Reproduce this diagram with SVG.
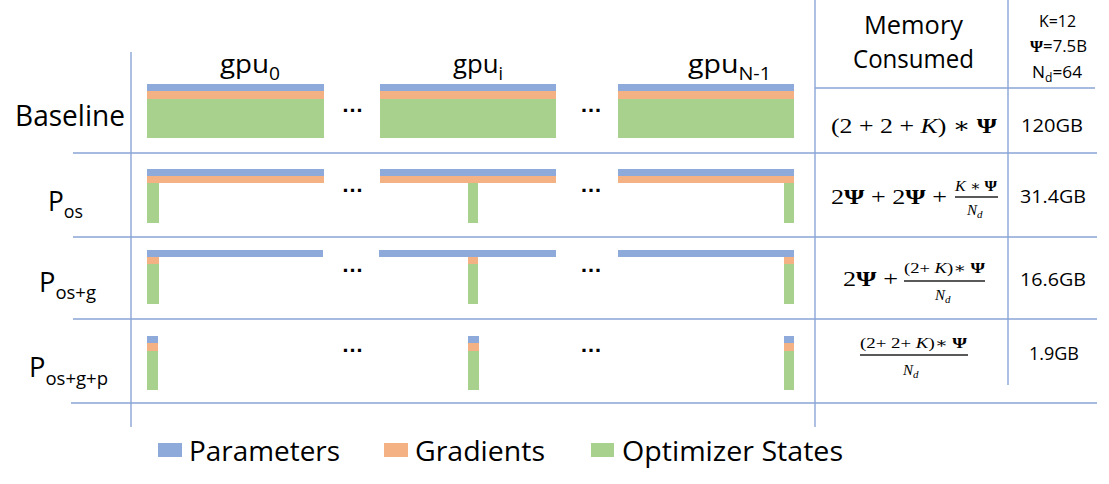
<svg xmlns="http://www.w3.org/2000/svg" width="1109" height="484" viewBox="0 0 1109 484">
<style>
.t{font-family:"Open Sans","Liberation Sans",sans-serif;fill:#000}
.m{font-family:"Liberation Serif","DejaVu Serif",serif;fill:#000}
.grid line{stroke:#8aa4d6;stroke-width:1.4}
.p{fill:#8eaadb}.g{fill:#f4b183}.o{fill:#a9d18e}
.dots{font-family:"Liberation Sans",sans-serif;font-size:22px;fill:#000;text-anchor:middle;font-weight:bold}
.fl{stroke:#222;stroke-width:1.3}
</style>
<rect width="1109" height="484" fill="#fff"/>
<g id="grid" class="grid">
<line x1="131" y1="52" x2="131" y2="427"/>
<line x1="815" y1="0" x2="815" y2="427"/>
<line x1="1008" y1="0" x2="1008" y2="385"/>
<line x1="815" y1="88" x2="1095" y2="88"/>
<line x1="73" y1="153" x2="1097" y2="153"/>
<line x1="73" y1="237" x2="1097" y2="237"/>
<line x1="73" y1="319" x2="1097" y2="319"/>
<line x1="71" y1="403" x2="1097" y2="403"/>
</g>
<g id="header">
<text class="t" x="220" y="73" font-size="26" textLength="60" lengthAdjust="spacingAndGlyphs">gpu<tspan font-size="18" dy="7">0</tspan></text>
<text class="t" x="453" y="73" font-size="26" textLength="50" lengthAdjust="spacingAndGlyphs">gpu<tspan font-size="18" dy="7">i</tspan></text>
<text class="t" x="688" y="73" font-size="26" textLength="83" lengthAdjust="spacingAndGlyphs">gpu<tspan font-size="18" dy="7">N-1</tspan></text>
<text class="t" x="864" y="34" font-size="26" textLength="99" lengthAdjust="spacingAndGlyphs">Memory</text>
<text class="t" x="853" y="68" font-size="26" textLength="121" lengthAdjust="spacingAndGlyphs">Consumed</text>
<text class="t" x="1039" y="27" font-size="17" textLength="37" lengthAdjust="spacingAndGlyphs">K=12</text>
<text x="1030" y="52" font-size="17" textLength="57" lengthAdjust="spacingAndGlyphs"><tspan class="m" font-weight="bold">Ψ</tspan><tspan class="t">=7.5B</tspan></text>
<text class="t" x="1032" y="78" font-size="17" textLength="50" lengthAdjust="spacingAndGlyphs">N<tspan font-size="12" dy="4">d</tspan><tspan dy="-4">=64</tspan></text>
</g>
<g id="row-baseline">
<text class="t" x="15" y="126" font-size="29" textLength="110" lengthAdjust="spacingAndGlyphs">Baseline</text>
<rect class="p" x="147" y="84" width="177" height="7"/><rect class="g" x="147" y="91" width="177" height="8"/><rect class="o" x="147" y="99" width="177" height="39"/>
<rect class="p" x="380" y="84" width="176" height="7"/><rect class="g" x="380" y="91" width="176" height="8"/><rect class="o" x="380" y="99" width="176" height="39"/>
<rect class="p" x="618" y="84" width="176" height="7"/><rect class="g" x="618" y="91" width="176" height="8"/><rect class="o" x="618" y="99" width="176" height="39"/>
<text class="dots" x="352.5" y="112">…</text><text class="dots" x="591" y="112">…</text>
<text class="m" x="831" y="133" font-size="22" textLength="166" lengthAdjust="spacingAndGlyphs">(2 + 2 + <tspan font-style="italic">K</tspan>) ∗ <tspan font-weight="bold">Ψ</tspan></text>
<text class="t" x="1021" y="132" font-size="19" textLength="62" lengthAdjust="spacingAndGlyphs">120GB</text>
</g>
<g id="row-pos">
<text class="t" x="48" y="211" font-size="28" textLength="35" lengthAdjust="spacingAndGlyphs">P<tspan font-size="19" dy="7">os</tspan></text>
<rect class="p" x="147" y="169" width="177" height="7"/><rect class="g" x="147" y="176" width="177" height="7"/><rect class="o" x="147" y="183" width="12" height="40"/>
<rect class="p" x="380" y="169" width="176" height="7"/><rect class="g" x="380" y="176" width="176" height="7"/><rect class="o" x="468" y="183" width="10" height="40"/>
<rect class="p" x="618" y="169" width="176" height="7"/><rect class="g" x="618" y="176" width="176" height="7"/><rect class="o" x="784" y="183" width="10" height="40"/>
<text class="dots" x="352.5" y="192">…</text><text class="dots" x="591" y="192">…</text>
<text class="m" x="831" y="204" font-size="22" textLength="116" lengthAdjust="spacingAndGlyphs">2<tspan font-weight="bold">Ψ</tspan> + 2<tspan font-weight="bold">Ψ</tspan> +</text>
<text class="m" x="955" y="191" font-size="15" textLength="42" lengthAdjust="spacingAndGlyphs"><tspan font-style="italic">K</tspan> ∗ <tspan font-weight="bold">Ψ</tspan></text>
<line class="fl" x1="955" y1="197" x2="998" y2="197"/>
<text class="m" x="967" y="215" font-size="15" font-style="italic">N<tspan font-size="11" dy="3">d</tspan></text>
<text class="t" x="1020" y="203" font-size="19" textLength="66" lengthAdjust="spacingAndGlyphs">31.4GB</text>
</g>
<g id="row-pos-g">
<text class="t" x="39" y="292" font-size="28" textLength="57" lengthAdjust="spacingAndGlyphs">P<tspan font-size="19" dy="7">os+g</tspan></text>
<rect class="p" x="147" y="250" width="176" height="7"/><rect class="g" x="147" y="257" width="12" height="7"/><rect class="o" x="147" y="264" width="12" height="40"/>
<rect class="p" x="379" y="250" width="177" height="7"/><rect class="g" x="468" y="257" width="10" height="7"/><rect class="o" x="468" y="264" width="10" height="40"/>
<rect class="p" x="618" y="250" width="176" height="7"/><rect class="g" x="784" y="257" width="10" height="7"/><rect class="o" x="784" y="264" width="10" height="40"/>
<text class="dots" x="352.5" y="272">…</text><text class="dots" x="591" y="272">…</text>
<text class="m" x="843" y="286" font-size="22" textLength="55" lengthAdjust="spacingAndGlyphs">2<tspan font-weight="bold">Ψ</tspan> +</text>
<text class="m" x="904" y="273" font-size="15" textLength="81" lengthAdjust="spacingAndGlyphs">(2+ <tspan font-style="italic">K</tspan>)∗ <tspan font-weight="bold">Ψ</tspan></text>
<line class="fl" x1="904" y1="281" x2="985" y2="281"/>
<text class="m" x="935" y="300" font-size="15" font-style="italic">N<tspan font-size="11" dy="3">d</tspan></text>
<text class="t" x="1020" y="286" font-size="19" textLength="66" lengthAdjust="spacingAndGlyphs">16.6GB</text>
</g>
<g id="row-pos-g-p">
<text class="t" x="29" y="377" font-size="28" textLength="79" lengthAdjust="spacingAndGlyphs">P<tspan font-size="19" dy="8">os+g+p</tspan></text>
<rect class="p" x="147" y="336" width="11" height="7"/><rect class="g" x="147" y="343" width="11" height="8"/><rect class="o" x="147" y="351" width="11" height="39"/>
<rect class="p" x="468" y="336" width="11" height="7"/><rect class="g" x="468" y="343" width="11" height="8"/><rect class="o" x="468" y="351" width="11" height="39"/>
<rect class="p" x="784" y="336" width="10" height="7"/><rect class="g" x="784" y="343" width="10" height="8"/><rect class="o" x="784" y="351" width="10" height="39"/>
<text class="dots" x="352.5" y="352">…</text><text class="dots" x="591" y="352">…</text>
<text class="m" x="860" y="348" font-size="15" textLength="107" lengthAdjust="spacingAndGlyphs">(2+ 2+ <tspan font-style="italic">K</tspan>)∗ <tspan font-weight="bold">Ψ</tspan></text>
<line class="fl" x1="860" y1="355" x2="968" y2="355"/>
<text class="m" x="903" y="375" font-size="15" font-style="italic">N<tspan font-size="11" dy="3">d</tspan></text>
<text class="t" x="1029" y="360" font-size="19" textLength="50" lengthAdjust="spacingAndGlyphs">1.9GB</text>
</g>
<g id="legend">
<rect class="p" x="158" y="443" width="24" height="14"/>
<text class="t" x="189" y="461" font-size="28" textLength="151" lengthAdjust="spacingAndGlyphs">Parameters</text>
<rect class="g" x="384" y="443" width="24" height="14"/>
<text class="t" x="415" y="461" font-size="28" textLength="130" lengthAdjust="spacingAndGlyphs">Gradients</text>
<rect class="o" x="591" y="443" width="23" height="14"/>
<text class="t" x="622" y="461" font-size="28" textLength="221" lengthAdjust="spacingAndGlyphs">Optimizer States</text>
</g>
</svg>
